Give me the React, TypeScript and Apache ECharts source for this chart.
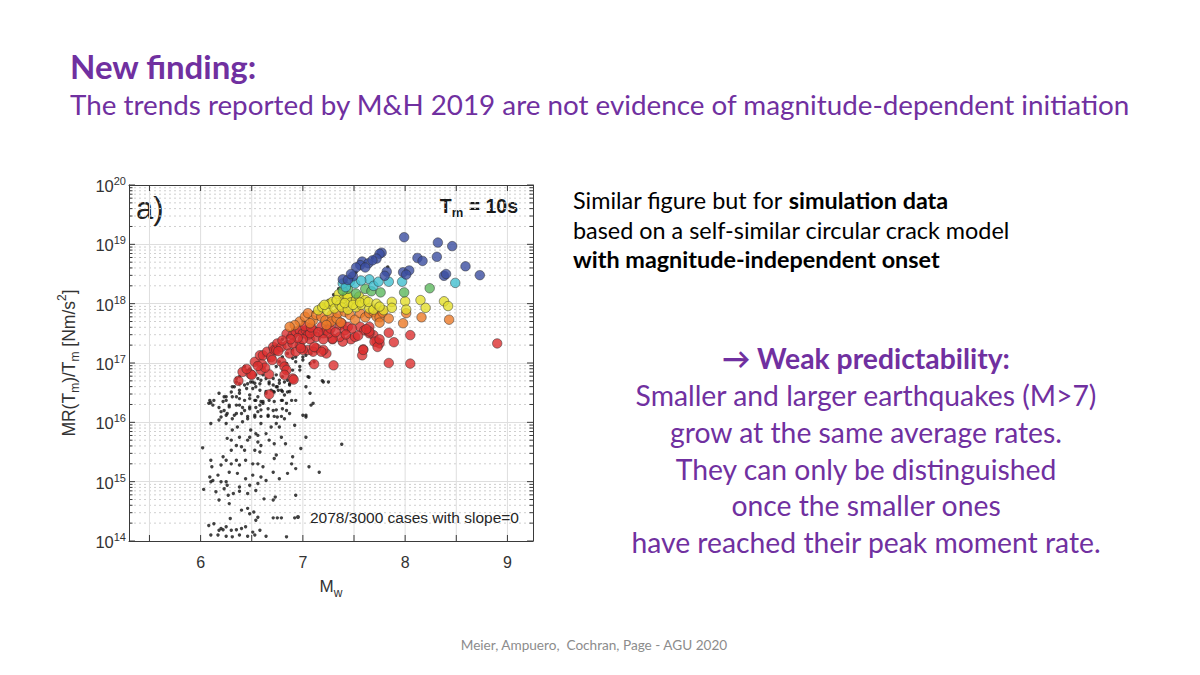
import { useEffect, useRef } from "react";
import * as echarts from "echarts";

// Each point: [Mw, log10(MR(Tm)/Tm in Nm/s^2)], Tm = 10 s
const slopeZero: [number, number][] = [
  [6.38,16.77],[6.43,16.94],[6.48,16.88],[6.54,16.99],[6.61,16.91],[6.67,17.05],[6.74,16.94],[6.77,17.02],[6.80,17.10],[6.84,16.99],
  [6.90,17.08],[6.93,17.02],[6.97,16.94],[7.00,17.10],[7.03,17.13],[7.08,17.16],[7.07,16.99],[7.11,17.02],[7.19,16.70],[7.25,16.68],
  [6.35,16.74],[6.38,16.65],[6.33,16.60],[6.43,16.63],[6.46,16.65],[6.51,16.68],[6.54,16.60],[6.58,16.65],[6.61,16.80],[6.67,16.65],
  [6.71,16.74],[6.74,16.80],[6.77,16.71],[6.80,16.77],[6.84,16.85],[6.87,16.65],[6.90,16.88],[6.93,17.10],[7.00,17.05],[7.02,17.19],
  [7.05,16.77],[7.20,16.68],[6.90,17.22],[6.85,17.16],[6.97,16.88],
  [6.18,16.49],[6.23,16.43],[6.30,16.51],[6.35,16.43],[6.38,16.49],[6.43,16.37],[6.48,16.46],[6.53,16.37],[6.56,16.43],[6.59,16.35],
  [6.64,16.49],[6.69,16.54],[6.72,16.51],[6.75,16.60],[6.79,16.54],[6.82,16.46],[6.85,16.51],[6.93,16.37],[7.03,16.60],[7.07,16.49],
  [6.25,16.37],[6.13,16.37],[6.08,16.32],
  [6.12,16.29],[6.18,16.25],[6.23,16.20],[6.28,16.26],[6.35,16.15],[6.38,16.29],[6.43,16.20],[6.48,16.26],[6.53,16.09],[6.56,16.18],
  [6.58,16.29],[6.61,16.32],[6.66,16.12],[6.71,16.20],[6.75,16.09],[6.80,16.37],[6.84,16.20],[6.89,16.37],[7.00,16.12],[7.08,16.29],
  [7.10,16.32],[6.20,16.09],[6.25,16.12],[6.31,16.06],[6.46,16.06],
  [6.10,15.98],[6.18,16.04],[6.25,15.98],[6.31,15.87],[6.36,15.92],[6.41,16.01],[6.49,15.87],[6.54,15.81],[6.59,15.98],[6.64,15.81],
  [6.69,15.92],[6.74,15.98],[6.77,15.92],[6.82,16.06],[7.03,16.12],[6.48,15.75],[6.38,15.75],[6.56,15.78],
  [6.26,15.73],[6.30,15.70],[6.35,15.61],[6.40,15.59],[6.46,15.70],[6.56,15.67],[6.59,15.61],[6.67,15.70],[6.72,15.64],[6.79,15.75],
  [6.83,15.64],[6.98,15.56],[7.03,15.75],[7.38,15.63],[6.43,15.53],[6.53,15.53],[6.58,15.50],[6.30,15.53],
  [6.02,15.57],[6.22,15.42],[6.25,15.36],[6.30,15.30],[6.35,15.36],[6.38,15.28],[6.44,15.36],[6.51,15.30],[6.56,15.30],[6.61,15.25],
  [6.72,15.39],[6.74,15.45],[6.89,15.30],[6.90,15.42],[7.06,15.25],[7.16,15.16],[6.20,15.28],[6.10,15.36],[6.11,15.25],
  [6.09,15.08],[6.12,15.02],[6.17,15.11],[6.20,15.00],[6.25,15.00],[6.28,15.16],[6.36,15.14],[6.44,15.05],[6.51,15.11],[6.56,14.97],
  [6.59,15.08],[6.64,15.02],[6.71,15.16],[6.77,15.05],[6.85,15.14],[6.93,15.22],[6.10,15.00],[6.26,14.94],[6.38,14.91],[6.48,14.94],
  [6.03,14.87],[6.15,14.83],[6.23,14.88],[6.27,14.77],[6.32,14.80],[6.38,14.84],[6.46,14.80],[6.54,14.85],[6.62,14.71],[6.71,14.69],
  [6.73,14.74],[6.93,14.77],[6.18,14.69],
  [6.28,14.63],[6.40,14.52],[6.46,14.55],[6.52,14.49],[6.56,14.40],[6.71,14.39],[6.75,14.39],[6.79,14.39],[6.92,14.39],[6.29,14.38],
  [6.54,14.35],[6.48,14.46],
  [6.08,14.26],[6.13,14.29],[6.18,14.18],[6.22,14.19],[6.25,14.24],[6.30,14.18],[6.35,14.19],[6.40,14.21],[6.44,14.24],[6.51,14.15],
  [6.58,14.18],[6.17,14.10],[6.10,14.10],[6.25,14.08],[6.31,14.07],[6.38,14.10],[6.46,14.08],[6.53,14.10],[6.64,14.08],[6.84,14.07],
  [6.20,14.21],
  [7.52,18.53],[7.68,18.77],[7.83,18.62],[7.40,18.30],[7.30,18.15],[7.25,18.05],[7.20,17.98],[7.10,17.85],[7.00,17.70],[6.90,17.55],
  [6.85,17.45],[6.80,17.40],[6.70,17.25],[6.62,17.12],[6.55,17.00],[6.48,16.90],[7.60,18.68],[7.45,18.45],[7.35,18.25],
  [6.10,16.33],[7.06,16.76],[7.03,16.09],[6.92,15.95],
  [6.45,16.88],[6.48,16.82],[6.54,16.80],[6.56,16.74],[6.49,16.68],[6.53,16.66],[6.59,16.71],[6.64,16.74],[6.67,16.68],[6.71,16.63],
  [6.74,16.60],[6.77,16.66],[6.82,16.68],[6.85,16.71],[6.87,16.63],[6.35,16.68],[6.31,16.60],[6.38,16.54],[6.45,16.57],[6.51,16.57],
  [6.58,16.54],[6.64,16.52],[6.71,16.52],[6.76,16.54],[6.80,16.52],[6.87,16.52],[6.25,16.43],[6.31,16.43],[6.38,16.40],[6.48,16.40],
  [6.54,16.37],[6.61,16.35],[6.67,16.37],[6.72,16.35],[6.79,16.37],[6.84,16.32],[6.09,16.37],[6.22,16.35],[6.28,16.29],[6.35,16.29],
  [6.41,16.25],[6.48,16.23],[6.54,16.25],[6.59,16.21],[6.66,16.23],[6.74,16.21],[6.80,16.23],[6.20,16.18],[6.26,16.15],[6.33,16.12],
  [6.40,16.15],[6.46,16.10],[6.53,16.12],[6.59,16.10],[6.66,16.10],[6.72,16.10],[6.79,16.10],[6.87,16.15],
];

const redPts: [number, number][] = [
  [6.37,16.70],[6.41,16.85],[6.49,16.81],[6.50,16.80],[6.53,17.02],[6.58,17.13],[6.60,16.98],[6.59,16.88],[6.67,16.81],[6.67,16.47],
  [6.61,17.13],[6.65,17.19],[6.69,17.10],[6.71,17.27],[6.72,17.22],[6.74,17.22],[6.75,17.33],[6.79,17.27],[6.79,17.02],[6.82,16.94],
  [6.84,16.88],[6.85,17.30],[6.87,17.16],[6.82,16.80],[6.90,16.74],[6.91,16.72],[6.84,17.49],[6.90,17.47],[6.93,17.53],[6.97,17.55],
  [7.00,17.50],[7.03,17.55],[7.05,17.47],[7.07,17.40],[7.10,17.55],[7.13,17.44],[7.18,17.61],[7.20,17.50],[7.23,17.55],[7.26,17.67],
  [7.29,17.40],[7.36,17.64],[7.38,17.67],[7.41,17.55],[7.44,17.61],[7.47,17.40],[7.51,17.44],[7.56,17.61],[7.59,17.23],[7.58,17.13],
  [7.60,17.55],[7.65,17.61],[7.69,17.47],[7.72,17.36],[7.75,17.33],[7.65,17.50],[7.84,17.51],[7.89,17.35],[8.05,17.47],[7.84,17.00],
  [8.05,16.99],[7.30,16.96],[7.11,16.98],[7.23,17.16],[7.20,17.22],[7.13,17.25],[7.05,17.22],[7.00,17.22],[6.93,17.19],[6.97,17.30],
  [6.90,17.33],[7.10,17.19],[8.90,17.33],[7.18,17.19],[7.59,17.22],[7.65,17.53],[7.54,17.46],[7.48,17.58],[7.39,17.36],[7.36,17.44],
  [7.29,17.41],[7.25,17.50],[7.20,17.40],[7.07,17.50],[7.00,17.40],[7.11,17.27],[6.98,17.25],[7.70,17.36],[7.73,17.27],[7.62,17.57],
  [7.75,17.40],[6.95,17.42],[7.02,17.62],[7.08,17.60],[7.15,17.52],[7.27,17.58],[7.32,17.52],[7.42,17.48],[6.88,17.40],[6.80,17.38],
  [6.76,17.20],[6.70,17.05],[6.63,16.92],[6.56,16.95],[6.45,16.90],
];

const orangePts: [number, number][] = [
  [6.97,17.70],[7.02,17.78],[7.05,17.84],[7.10,17.72],[7.13,17.81],[7.18,17.78],[7.22,17.72],[7.28,17.81],[7.28,17.70],[7.33,17.75],
  [7.34,17.84],[7.37,17.68],[7.41,17.86],[7.46,17.81],[7.51,17.73],[7.56,17.84],[7.61,17.77],[7.65,17.84],[7.69,17.86],[7.72,17.78],
  [7.75,17.77],[7.75,17.68],[7.78,17.85],[7.84,17.75],[7.98,17.67],[8.01,17.84],[8.16,17.77],[8.43,17.73],[7.07,17.67],[7.23,17.64],
  [6.92,17.64],[6.87,17.61],
];

const yellowPts: [number, number][] = [
  [7.15,17.89],[7.19,17.94],[7.24,17.88],[7.26,18.00],[7.29,18.03],[7.31,17.92],[7.35,18.16],[7.36,17.98],[7.38,17.94],[7.40,18.09],
  [7.43,18.12],[7.44,18.13],[7.44,17.90],[7.47,18.02],[7.52,18.06],[7.52,17.94],[7.55,18.12],[7.57,17.98],[7.61,18.06],[7.65,17.92],
  [7.69,17.90],[7.79,17.89],[7.87,18.03],[7.87,17.93],[8.00,18.04],[8.01,17.90],[8.15,18.06],[8.20,17.93],[8.38,18.04],[8.42,17.96],
  [7.21,17.98],[7.33,18.06],[7.41,18.01],[7.49,17.98],[7.56,18.02],[7.64,18.03],[7.72,18.00],[7.75,17.95],
];

const greenPts: [number, number][] = [
  [7.44,18.25],[7.39,18.22],[7.61,18.25],[7.67,18.21],[7.76,18.19],[7.99,18.19],[8.24,18.26],[7.52,18.17],
];

const cyanPts: [number, number][] = [
  [7.39,18.34],[7.46,18.37],[7.51,18.34],[7.65,18.41],[7.69,18.30],[7.74,18.37],[7.84,18.37],[7.97,18.37],[8.49,18.35],[7.57,18.39],
  [7.42,18.28],
];

const bluePts: [number, number][] = [
  [7.99,19.12],[8.32,19.03],[8.46,18.97],[7.77,18.86],[7.75,18.84],[8.31,18.79],[8.12,18.77],[8.17,18.72],[7.58,18.71],[7.64,18.68],
  [8.59,18.63],[7.56,18.65],[7.52,18.61],[7.61,18.61],[7.82,18.54],[7.98,18.53],[8.04,18.56],[8.38,18.47],[8.40,18.50],[8.73,18.48],
  [7.80,18.47],[8.01,18.49],[7.49,18.46],[7.39,18.41],[7.44,18.40],[7.72,18.76],[7.68,18.73],[7.47,18.50],
];

// Axis layout values
const X_MIN = 5.3;
const X_MAX = 9.25;
const xLabelValues = [6, 7, 8, 9];
const xGridValues = [5.5, 6, 6.5, 7, 7.5, 8, 8.5, 9];
const decades = [14, 15, 16, 17, 18, 19, 20];
const minorFactors = [2, 3, 4, 5, 6, 7, 8, 9];

const legendLabel = "2078/3000 cases with slope=0";

const PURPLE = "#7030a0";
const SLIDE_FONT = "Lato, 'Open Sans', sans-serif";
const AX_FONT = "'Liberation Sans', Arial, Helvetica, sans-serif";
const AX_COLOR = "#333333";
const FRAME = "#3a3a3a";

const colourGroups: { name: string; color: string; pts: [number, number][] }[] = [
  { name: "red", color: "#dc3030", pts: redPts },
  { name: "orange", color: "#ec7a28", pts: orangePts },
  { name: "yellow", color: "#e4de2c", pts: yellowPts },
  { name: "green", color: "#5db85e", pts: greenPts },
  { name: "cyan", color: "#42bfcf", pts: cyanPts },
  { name: "blue", color: "#3b4ea0", pts: bluePts },
];

const purpleLines = [
  "Smaller and larger earthquakes (M>7)",
  "grow at the same average rates.",
  "They can only be distinguished",
  "once the smaller ones",
  "have reached their peak moment rate.",
];

function buildOption(): echarts.EChartsCoreOption {
  const minorLogs = decades.slice(0, -1).flatMap((d) => minorFactors.map((k) => d + Math.log10(k)));

  // [axis (0 = y, 1 = x), value, major flag]
  const tickItems: number[][] = [
    ...decades.map((d) => [0, d, 1]),
    ...minorLogs.map((v) => [0, v, 0]),
    ...xGridValues.map((v) => [1, v, 1]),
  ];
  // [axis (0 = horizontal dotted minor, 1 = vertical solid), value]
  const gridItems: number[][] = [
    ...minorLogs.map((v) => [0, v]),
    ...xGridValues.map((v) => [1, v]),
  ];

  const yBottom = decades[0];
  const yTop = decades[decades.length - 1];

  return {
    animation: false,
    backgroundColor: "#ffffff",
    grid: { left: 129, right: 667, top: 185, bottom: 134, containLabel: false },
    legend: {
      data: [legendLabel],
      left: 296,
      top: 509,
      padding: 0,
      icon: "circle",
      itemWidth: 14,
      itemHeight: 4,
      itemGap: 5,
      selectedMode: false,
      textStyle: { fontFamily: AX_FONT, fontSize: 15.5, color: "#262626" },
    },
    xAxis: [
      {
        type: "value",
        min: X_MIN,
        max: X_MAX,
        position: "bottom",
        axisLine: { show: true, onZero: false, lineStyle: { color: FRAME, width: 1 } },
        axisTick: { show: false },
        splitLine: { show: false },
        axisLabel: {
          customValues: xLabelValues,
          formatter: (v: number) => (Number.isInteger(v) ? String(v) : ""),
          fontFamily: AX_FONT,
          fontSize: 16,
          color: AX_COLOR,
          margin: 13,
        },
        name: "{t|M}{s|w}",
        nameLocation: "middle",
        nameGap: 37,
        nameTextStyle: {
          rich: {
            t: { fontFamily: AX_FONT, fontSize: 17, color: AX_COLOR, verticalAlign: "top" },
            s: { fontFamily: AX_FONT, fontSize: 12, color: AX_COLOR, verticalAlign: "top", padding: [9, 0, 0, 0] },
          },
        },
      },
      {
        type: "value",
        min: X_MIN,
        max: X_MAX,
        position: "top",
        axisLine: { show: true, onZero: false, lineStyle: { color: FRAME, width: 1 } },
        axisTick: { show: false },
        axisLabel: { show: false },
        splitLine: { show: false },
      },
    ],
    yAxis: [
      {
        type: "value",
        min: yBottom,
        max: yTop,
        interval: 1,
        position: "left",
        axisLine: { show: true, onZero: false, lineStyle: { color: FRAME, width: 1 } },
        axisTick: { show: false },
        splitLine: { show: true, lineStyle: { color: "#dedede", width: 1 } },
        axisLabel: {
          margin: 3,
          formatter: (v: number) => `{b|10}{s|${v}}`,
          rich: {
            b: { fontFamily: AX_FONT, fontSize: 16.5, color: AX_COLOR, verticalAlign: "bottom" },
            s: { fontFamily: AX_FONT, fontSize: 11, color: AX_COLOR, verticalAlign: "bottom", padding: [0, 0, 8, 0] },
          },
        },
        name: "{t|MR(T}{s|m}{t|)/T}{s|m}{t| [Nm/s}{p|2}{t|]}",
        nameLocation: "middle",
        nameRotate: 90,
        nameGap: 48,
        nameTextStyle: {
          rich: {
            t: { fontFamily: AX_FONT, fontSize: 17.5, color: AX_COLOR, verticalAlign: "top", padding: [4, 0, 0, 0] },
            s: { fontFamily: AX_FONT, fontSize: 12, color: AX_COLOR, verticalAlign: "top", padding: [13, 0, 0, 0] },
            p: { fontFamily: AX_FONT, fontSize: 12, color: AX_COLOR, verticalAlign: "top", padding: [0, 0, 0, 0] },
          },
        },
      },
      {
        type: "value",
        min: yBottom,
        max: yTop,
        interval: 1,
        position: "right",
        axisLine: { show: true, onZero: false, lineStyle: { color: FRAME, width: 1 } },
        axisTick: { show: false },
        axisLabel: { show: false },
        splitLine: { show: false },
      },
    ],
    series: [
      {
        type: "custom",
        name: "grid",
        silent: true,
        z: 0,
        data: gridItems,
        renderItem: (_p: any, api: any) => {
          const kind = api.value(0);
          const v = api.value(1);
          if (kind === 0) {
            const a = api.coord([X_MIN, v]);
            const b = api.coord([X_MAX, v]);
            return {
              type: "line",
              shape: { x1: a[0], y1: a[1], x2: b[0], y2: b[1] },
              style: { stroke: "#cfcfcf", lineWidth: 1, lineDash: [2, 3] },
            };
          }
          const a = api.coord([v, yBottom]);
          const b = api.coord([v, yTop]);
          return {
            type: "line",
            shape: { x1: a[0], y1: a[1], x2: b[0], y2: b[1] },
            style: { stroke: "#dedede", lineWidth: 1 },
          };
        },
      },
      {
        type: "scatter",
        name: legendLabel,
        data: slopeZero,
        symbol: "circle",
        symbolSize: 3.4,
        z: 2,
        itemStyle: { color: "#111111" },
      },
      ...colourGroups.map((g) => ({
        type: "scatter",
        name: g.name,
        data: g.pts,
        symbol: "circle",
        symbolSize: 9.5,
        z: 3,
        itemStyle: { color: g.color, borderColor: "rgba(45,45,45,0.9)", borderWidth: 0.7 },
      })),
      {
        type: "custom",
        name: "ticks",
        silent: true,
        z: 4,
        data: tickItems,
        renderItem: (_p: any, api: any) => {
          const kind = api.value(0);
          const v = api.value(1);
          const len = api.value(2) ? 6 : 3.5;
          const style = { stroke: FRAME, lineWidth: 1 };
          if (kind === 0) {
            const a = api.coord([X_MIN, v]);
            const b = api.coord([X_MAX, v]);
            return {
              type: "group",
              children: [
                { type: "line", shape: { x1: a[0], y1: a[1], x2: a[0] + len, y2: a[1] }, style },
                { type: "line", shape: { x1: b[0], y1: b[1], x2: b[0] - len, y2: b[1] }, style },
              ],
            };
          }
          const a = api.coord([v, yBottom]);
          const b = api.coord([v, yTop]);
          return {
            type: "group",
            children: [
              { type: "line", shape: { x1: a[0], y1: a[1], x2: a[0], y2: a[1] - len }, style },
              { type: "line", shape: { x1: b[0], y1: b[1], x2: b[0], y2: b[1] + len }, style },
            ],
          };
        },
      },
    ],
    graphic: [
      {
        type: "text",
        x: 70,
        y: 66,
        style: { text: "New finding:", fill: PURPLE, fontFamily: SLIDE_FONT, fontWeight: "bold", fontSize: 33, verticalAlign: "middle" },
      },
      {
        type: "text",
        x: 70,
        y: 104,
        style: {
          text: "The trends reported by M&H 2019 are not evidence of magnitude-dependent initiation",
          fill: PURPLE,
          fontFamily: SLIDE_FONT,
          fontSize: 27.8,
          verticalAlign: "middle",
        },
      },
      {
        type: "text",
        x: 136,
        y: 208,
        style: { text: "a)", fill: "#222222", fontFamily: AX_FONT, fontSize: 31, verticalAlign: "middle" },
      },
      {
        type: "text",
        x: 518,
        y: 207,
        style: {
          text: "{b|T}{s|m}{b| = 10s}",
          align: "right",
          verticalAlign: "middle",
          rich: {
            b: { fontFamily: AX_FONT, fontWeight: "bold", fontSize: 19.5, fill: "#1a1a1a", verticalAlign: "top" },
            s: { fontFamily: AX_FONT, fontWeight: "bold", fontSize: 13, fill: "#1a1a1a", verticalAlign: "top", padding: [10, 0, 0, 0] },
          },
        },
      },
      {
        type: "text",
        x: 573,
        y: 200,
        style: {
          text: "{n|Similar figure but for }{b|simulation data}",
          verticalAlign: "middle",
          rich: {
            n: { fontFamily: SLIDE_FONT, fontSize: 23.4, fill: "#000000" },
            b: { fontFamily: SLIDE_FONT, fontSize: 23.4, fontWeight: "bold", fill: "#000000" },
          },
        },
      },
      {
        type: "text",
        x: 573,
        y: 230,
        style: { text: "based on a self-similar circular crack model", fill: "#000000", fontFamily: SLIDE_FONT, fontSize: 23.4, verticalAlign: "middle" },
      },
      {
        type: "text",
        x: 573,
        y: 259,
        style: { text: "with magnitude-independent onset", fill: "#000000", fontFamily: SLIDE_FONT, fontSize: 23.4, fontWeight: "bold", verticalAlign: "middle" },
      },
      {
        type: "text",
        x: 866,
        y: 358,
        style: { text: "\u2192 Weak predictability:", fill: PURPLE, fontFamily: SLIDE_FONT, fontSize: 28.3, fontWeight: "bold", align: "center", verticalAlign: "middle" },
      },
      ...purpleLines.map((line, i) => ({
        type: "text",
        x: 866,
        y: 395 + i * 36.8,
        style: { text: line, fill: PURPLE, fontFamily: SLIDE_FONT, fontSize: 28.3, align: "center", verticalAlign: "middle" },
      })),
      {
        type: "text",
        x: 594,
        y: 645,
        style: { text: "Meier, Ampuero,  Cochran, Page - AGU 2020", fill: "#8c8c8c", fontFamily: SLIDE_FONT, fontSize: 13.6, align: "center", verticalAlign: "middle" },
      },
    ],
  };
}

export default function App() {
  const ref = useRef<HTMLDivElement>(null);
  useEffect(() => {
    if (!ref.current) return;
    const chart = echarts.init(ref.current, undefined, { renderer: "svg" });
    chart.setOption(buildOption());
    return () => chart.dispose();
  }, []);
  return (
    <div
      ref={ref}
      style={{ position: "fixed", left: 0, top: 0, width: 1200, height: 675, background: "#ffffff" }}
    />
  );
}
